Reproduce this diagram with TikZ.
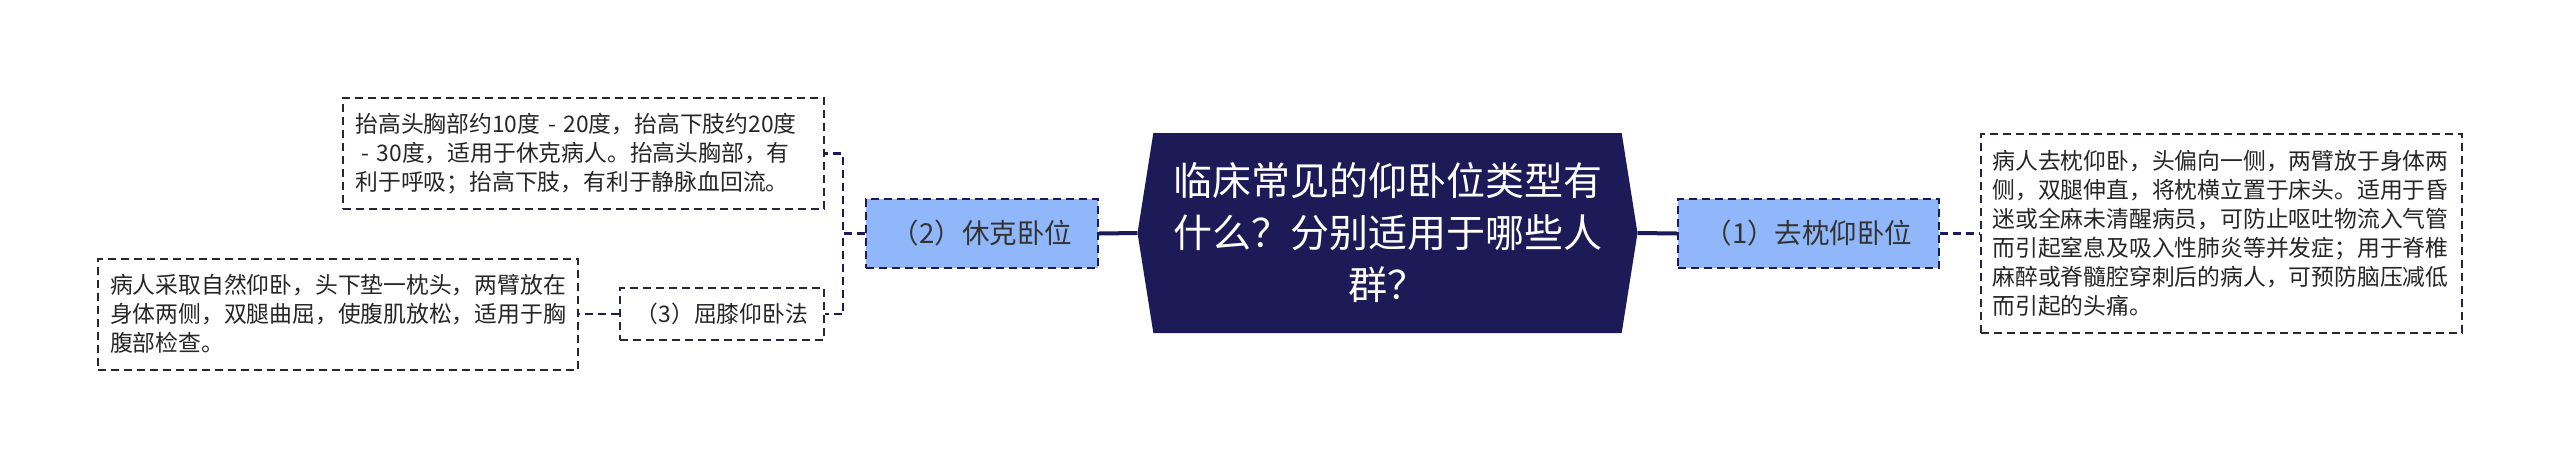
\documentclass[tikz,border=0pt]{standalone}
\usepackage{fontspec}
\usetikzlibrary{shapes.symbols}
\newfontfamily\cjk{Noto Sans CJK SC}
\definecolor{themenavy}{RGB}{28,27,88}
\definecolor{topicblue}{RGB}{143,183,250}
\definecolor{notegray}{RGB}{38,38,58}

\begin{document}
\begin{tikzpicture}[x=1pt, y=-1pt,
  root/.style={shape=signal, signal to=west and east, signal pointer angle=162,
    fill=themenavy, text=white, inner sep=0pt, align=center,
    minimum width=500pt, minimum height=200pt, font=\cjk\fontsize{39}{52}\selectfont},
  topic/.style={draw=themenavy, dash pattern=on 8pt off 5pt, line width=2pt,
    fill=topicblue, text=black!80, inner sep=0pt, font=\cjk\fontsize{27.5}{32}\selectfont},
  note/.style={draw=notegray, dash pattern=on 8pt off 5pt, line width=2pt,
    fill=white, text=black!85, inner sep=0pt, align=left, font=\cjk\fontsize{22.8}{29}\selectfont},
  trunk/.style={themenavy, line width=4pt},
  twig/.style={themenavy, dash pattern=on 8pt off 5pt, line width=2.4pt}]
\useasboundingbox (0,0) rectangle (2560,467);

% centre
\node[root] (question) at (1387.5,233) {临床常见的仰卧位类型有\\什么？分别适用于哪些人\\群？};

% right branch
\node[topic, minimum width=261pt, minimum height=69pt] (supine) at (1808.5,233.5) {（1）去枕仰卧位};
\node[note, text width=458pt, minimum width=481pt, minimum height=199pt] (supinenote) at (2221.5,233.5)
  {病人去枕仰卧，头偏向一侧，两臂放于身体两\\侧，双腿伸直，将枕横立置于床头。适用于昏\\迷或全麻未清醒病员，可防止呕吐物流入气管\\而引起窒息及吸入性肺炎等并发症；用于脊椎\\麻醉或脊髓腔穿刺后的病人，可预防脑压减低\\而引起的头痛。};

% left branch
\node[topic, minimum width=232pt, minimum height=69pt] (shock) at (982,233.5) {（2）休克卧位};
\node[note, text width=456pt, minimum width=481pt, minimum height=111pt] (shocknote) at (583.5,153.5)
  {抬高头胸部约10度 - 20度，抬高下肢约20度\\\hspace*{0.25em}- 30度，适用于休克病人。抬高头胸部，有\\利于呼吸；抬高下肢，有利于静脉血回流。};
\node[note, minimum width=204pt, minimum height=52pt, align=center] (knee) at (722,314) {（3）屈膝仰卧法};
\node[note, text width=456pt, minimum width=480pt, minimum height=111pt] (kneenote) at (338,314)
  {病人采取自然仰卧，头下垫一枕头，两臂放在\\身体两侧，双腿曲屈，使腹肌放松，适用于胸\\腹部检查。};

\draw[trunk] (shock.east) -- (question.west);
\draw[trunk] (question.east) -- (supine.west);
\draw[twig] (supine.east) -- (supinenote.west);
\draw[twig] (shock.west) -- ++(-22,0) |- (shocknote.east);
\draw[twig] (shock.west) -- ++(-22,0) |- (knee.east);
\draw[twig] (knee.west) -- (kneenote.east);

\end{tikzpicture}
\end{document}
